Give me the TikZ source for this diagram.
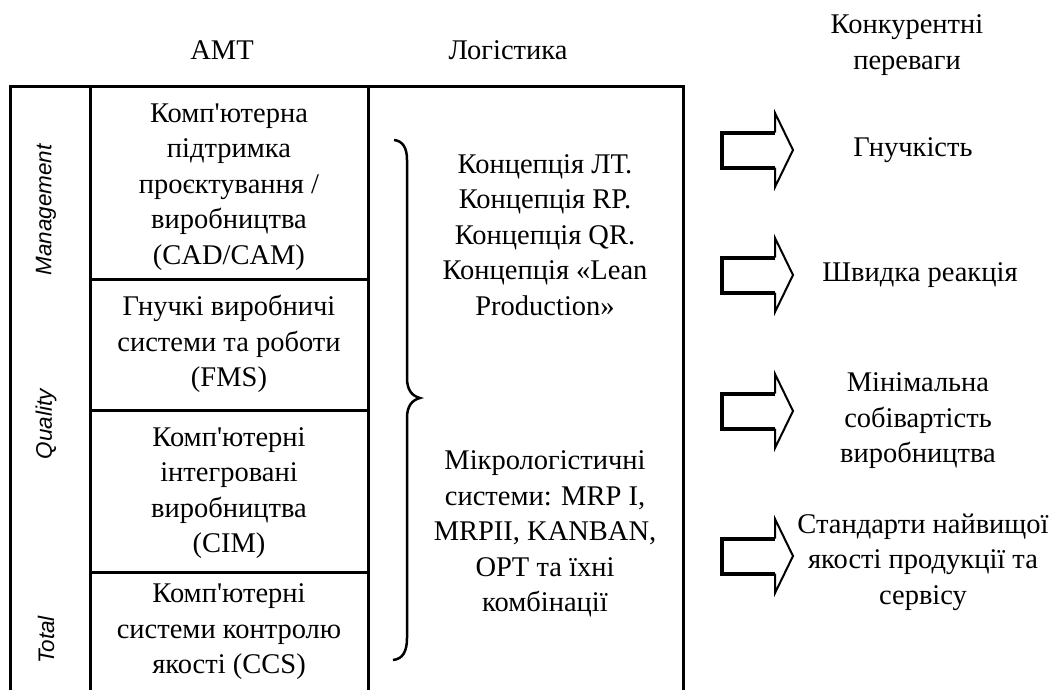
\documentclass[tikz,border=0pt]{standalone}
\usepackage{fontspec}
\setmainfont{Liberation Serif}[Ligatures=TeXOff]
\newfontfamily\lsans{Liberation Sans}
\begin{document}
\begin{tikzpicture}[x=1pt,y=-1pt,
  txt/.style={align=center, inner sep=0pt, font=\fontsize{28.5}{35.5}\selectfont},
  side/.style={inner sep=0pt, rotate=90, font=\lsans\itshape\fontsize{22.5}{26}\selectfont},
  rule/.style={line width=3pt},
  abody/.style={line width=4pt},
  ahead/.style={line width=2pt, line join=miter},
  bracestyle/.style={line width=2.5pt}]
\useasboundingbox (0,0) rectangle (1056,690);
% table frame
\draw[rule] (10,690) -- (10,87) -- (683,87) -- (683,690);
\draw[rule] (90,87) -- (90,690);
\draw[rule] (368,87) -- (368,690);
\draw[rule] (90,279) -- (368,279);
\draw[rule] (90,410) -- (368,410);
\draw[rule] (90,572) -- (368,572);
% headers
\node[txt] (hdrA) at (222,50) {АМТ};
\node[txt] (hdrL) at (508,50) {Логістика};
\node[txt] (hdrK) at (907,45) {Конкурентні\\переваги};
% side labels
\node[side] (lblM) at (46,210) {Management};
\node[side] (lblQ) at (46,424) {Quality};
\node[side] (lblT) at (46,640) {Total};
% AMT boxes
\node[txt] (amt1) at (229,187) {Комп'ютерна\\підтримка\\проєктування /\\виробництва\\(CAD/CAM)};
\node[txt] (amt2) at (229,344) {Гнучкі виробничі\\системи та роботи\\(FMS)};
\node[txt] (amt3) at (229,493) {Комп'ютерні\\інтегровані\\виробництва\\(CIM)};
\node[txt] (amt4) at (229,632) {Комп'ютерні\\системи контролю\\якості (CCS)};
% brace
\draw[bracestyle] (394,140) .. controls (403,141) and (407,148) .. (407,160) -- (407,378)
  .. controls (407,390) and (412,396) .. (420,398)
  .. controls (412,400) and (407,406) .. (407,418) -- (407,638)
  .. controls (407,651) and (403,659) .. (393,660);
% logistics
\node[txt] (log1) at (545,235) {Концепція ЛТ.\\Концепція RP.\\Концепція QR.\\Концепція «Lean\\Production»};
\node[txt] (log2) at (545,534) {Мікрологістичні\\системи: MRP I,\\MRPII, KANBAN,\\OPT та їхні\\комбінації};
% arrows
\foreach \c in {150,275,411,556} {
  \draw[abody] (775,\c-17.5) -- (722,\c-17.5) -- (722,\c+17.5) -- (775,\c+17.5);
  \draw[ahead] (775,\c-17.5) -- (775,\c-37) -- (793,\c) -- (775,\c+37) -- (775,\c+17.5);
}
% results
\node[txt] (res1) at (913,150) {Гнучкість};
\node[txt] (res2) at (920,275) {Швидка реакція};
\node[txt] (res3) at (918,421) {Мінімальна\\собівартість\\виробництва};
\node[txt] (res4) at (923,562) {Стандарти найвищої\\якості продукції та\\сервісу};
\end{tikzpicture}
\end{document}
